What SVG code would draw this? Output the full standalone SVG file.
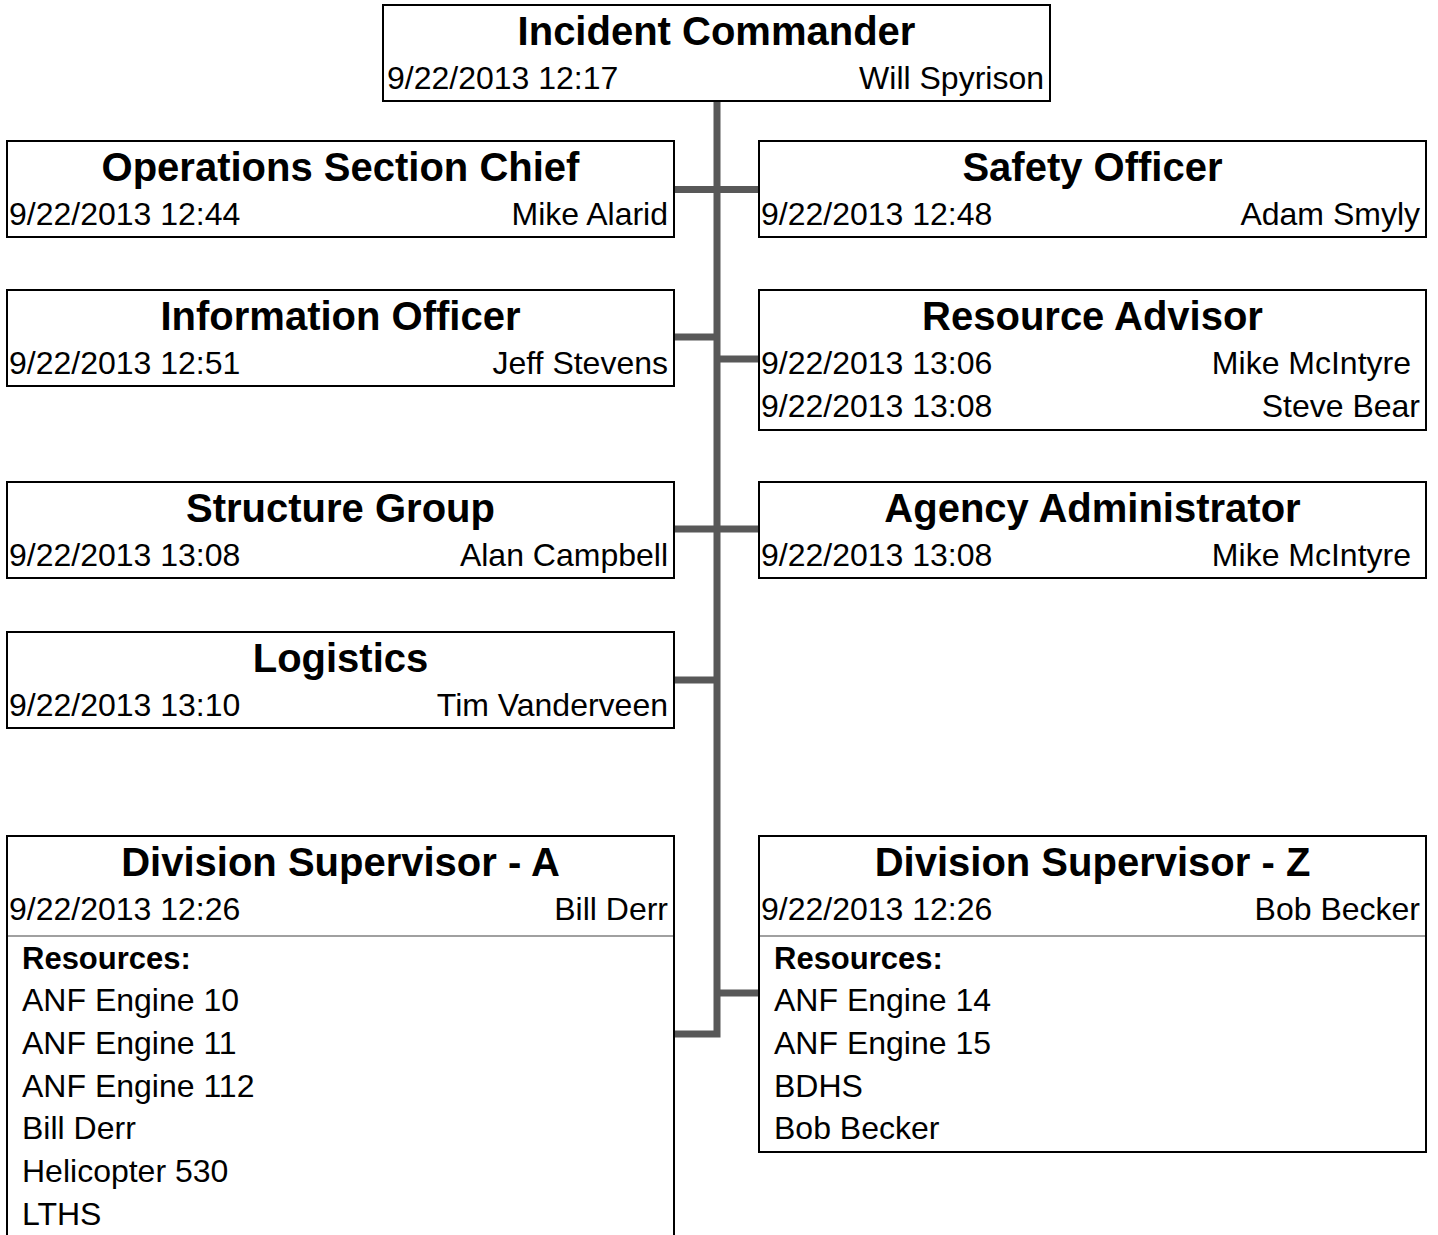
<svg xmlns="http://www.w3.org/2000/svg" width="1438" height="1235" viewBox="0 0 1438 1235">
<style>
  .box { fill: #ffffff; stroke: #000000; stroke-width: 2; }
  .sep { stroke: #a0a0a0; stroke-width: 2; }
  .title { font-family: "Liberation Sans", Arial, Helvetica, sans-serif; font-weight: bold; font-size: 40px; fill: #000; text-anchor: middle; }
  .txt { font-family: "Liberation Sans", Arial, Helvetica, sans-serif; font-size: 32px; fill: #000; }
  .end { text-anchor: end; }
  .res { font-family: "Liberation Sans", Arial, Helvetica, sans-serif; font-weight: bold; font-size: 31px; fill: #000; }
  .conn { fill: none; stroke: #585858; stroke-width: 7; stroke-linejoin: miter; stroke-linecap: butt; }
</style>
<rect width="1438" height="1235" fill="#ffffff"/>

<g id="connectors">
  <path class="conn" d="M717 102 V1034 H675"/>
  <path class="conn" d="M675 189.5 H758"/>
  <path class="conn" d="M675 337 H717"/>
  <path class="conn" d="M717 359 H758"/>
  <path class="conn" d="M675 529 H758"/>
  <path class="conn" d="M675 680 H717"/>
  <path class="conn" d="M717 993 H758"/>
</g>

<g id="incident-commander">
  <rect class="box" x="383" y="5" width="667" height="96"/>
  <text class="title" x="716.5" y="45">Incident Commander</text>
  <text class="txt" x="387" y="89">9/22/2013 12:17</text>
  <text class="txt end" x="1044" y="89">Will Spyrison</text>
</g>

<g id="operations-section-chief">
  <rect class="box" x="7" y="141" width="667" height="96"/>
  <text class="title" x="340.5" y="181">Operations Section Chief</text>
  <text class="txt" x="9" y="225">9/22/2013 12:44</text>
  <text class="txt end" x="668" y="225">Mike Alarid</text>
</g>

<g id="safety-officer">
  <rect class="box" x="759" y="141" width="667" height="96"/>
  <text class="title" x="1092.5" y="181">Safety Officer</text>
  <text class="txt" x="761" y="225">9/22/2013 12:48</text>
  <text class="txt end" x="1420" y="225">Adam Smyly</text>
</g>

<g id="information-officer">
  <rect class="box" x="7" y="290" width="667" height="96"/>
  <text class="title" x="340.5" y="330">Information Officer</text>
  <text class="txt" x="9" y="374">9/22/2013 12:51</text>
  <text class="txt end" x="668" y="374">Jeff Stevens</text>
</g>

<g id="resource-advisor">
  <rect class="box" x="759" y="290" width="667" height="140"/>
  <text class="title" x="1092.5" y="330">Resource Advisor</text>
  <text class="txt" x="761" y="374">9/22/2013 13:06</text>
  <text class="txt end" x="1411" y="374">Mike McIntyre</text>
  <text class="txt" x="761" y="417">9/22/2013 13:08</text>
  <text class="txt end" x="1420" y="417">Steve Bear</text>
</g>

<g id="structure-group">
  <rect class="box" x="7" y="482" width="667" height="96"/>
  <text class="title" x="340.5" y="522">Structure Group</text>
  <text class="txt" x="9" y="566">9/22/2013 13:08</text>
  <text class="txt end" x="668" y="566">Alan Campbell</text>
</g>

<g id="agency-administrator">
  <rect class="box" x="759" y="482" width="667" height="96"/>
  <text class="title" x="1092.5" y="522">Agency Administrator</text>
  <text class="txt" x="761" y="566">9/22/2013 13:08</text>
  <text class="txt end" x="1411" y="566">Mike McIntyre</text>
</g>

<g id="logistics">
  <rect class="box" x="7" y="632" width="667" height="96"/>
  <text class="title" x="340.5" y="672">Logistics</text>
  <text class="txt" x="9" y="716">9/22/2013 13:10</text>
  <text class="txt end" x="668" y="716">Tim Vanderveen</text>
</g>

<g id="division-supervisor-a">
  <rect class="box" x="7" y="836" width="667" height="420"/>
  <text class="title" x="340.5" y="876">Division Supervisor - A</text>
  <text class="txt" x="9" y="920">9/22/2013 12:26</text>
  <text class="txt end" x="668" y="920">Bill Derr</text>
  <line class="sep" x1="8" y1="936" x2="673" y2="936"/>
  <text class="res" x="22" y="969">Resources:</text>
  <text class="txt" x="22" y="1011">ANF Engine 10</text>
  <text class="txt" x="22" y="1054">ANF Engine 11</text>
  <text class="txt" x="22" y="1097">ANF Engine 112</text>
  <text class="txt" x="22" y="1139">Bill Derr</text>
  <text class="txt" x="22" y="1182">Helicopter 530</text>
  <text class="txt" x="22" y="1225">LTHS</text>
</g>

<g id="division-supervisor-z">
  <rect class="box" x="759" y="836" width="667" height="316"/>
  <text class="title" x="1092.5" y="876">Division Supervisor - Z</text>
  <text class="txt" x="761" y="920">9/22/2013 12:26</text>
  <text class="txt end" x="1420" y="920">Bob Becker</text>
  <line class="sep" x1="760" y1="936" x2="1425" y2="936"/>
  <text class="res" x="774" y="969">Resources:</text>
  <text class="txt" x="774" y="1011">ANF Engine 14</text>
  <text class="txt" x="774" y="1054">ANF Engine 15</text>
  <text class="txt" x="774" y="1097">BDHS</text>
  <text class="txt" x="774" y="1139">Bob Becker</text>
</g>
</svg>
